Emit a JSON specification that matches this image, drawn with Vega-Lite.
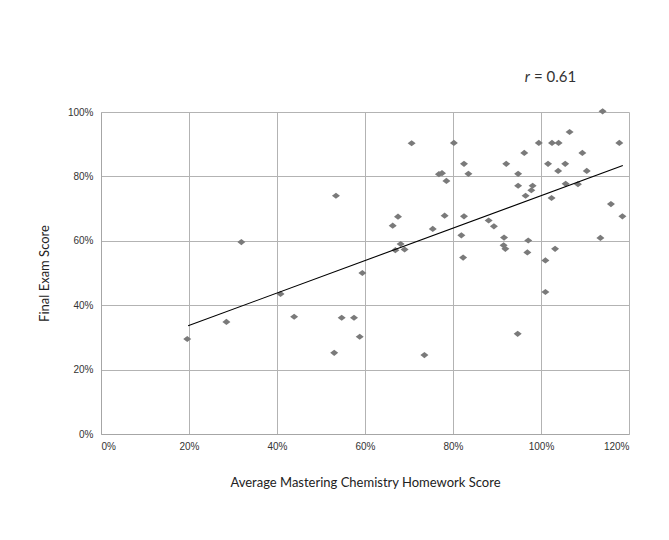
{
  "$schema": "https://vega.github.io/schema/vega-lite/v6.json",
  "autosize": "none",
  "width": 528,
  "height": 322,
  "padding": {"left": 101, "top": 112, "right": 40, "bottom": 106},
  "background": "white",
  "datasets": {
    "scores": [
      {"hw": 0.196, "exam": 0.295}, {"hw": 0.285, "exam": 0.348}, {"hw": 0.319, "exam": 0.596},
      {"hw": 0.408, "exam": 0.435}, {"hw": 0.439, "exam": 0.364}, {"hw": 0.530, "exam": 0.252},
      {"hw": 0.534, "exam": 0.740}, {"hw": 0.547, "exam": 0.361}, {"hw": 0.575, "exam": 0.361},
      {"hw": 0.588, "exam": 0.302}, {"hw": 0.594, "exam": 0.500}, {"hw": 0.663, "exam": 0.647},
      {"hw": 0.669, "exam": 0.571}, {"hw": 0.675, "exam": 0.675}, {"hw": 0.681, "exam": 0.590},
      {"hw": 0.690, "exam": 0.573}, {"hw": 0.706, "exam": 0.903}, {"hw": 0.735, "exam": 0.245},
      {"hw": 0.754, "exam": 0.637}, {"hw": 0.768, "exam": 0.807}, {"hw": 0.775, "exam": 0.810},
      {"hw": 0.781, "exam": 0.678}, {"hw": 0.785, "exam": 0.786}, {"hw": 0.802, "exam": 0.904},
      {"hw": 0.819, "exam": 0.617}, {"hw": 0.823, "exam": 0.548}, {"hw": 0.825, "exam": 0.676},
      {"hw": 0.825, "exam": 0.839}, {"hw": 0.835, "exam": 0.808}, {"hw": 0.881, "exam": 0.663},
      {"hw": 0.893, "exam": 0.645}, {"hw": 0.916, "exam": 0.610}, {"hw": 0.915, "exam": 0.586},
      {"hw": 0.919, "exam": 0.575}, {"hw": 0.921, "exam": 0.839}, {"hw": 0.947, "exam": 0.311},
      {"hw": 0.948, "exam": 0.808}, {"hw": 0.948, "exam": 0.771}, {"hw": 0.962, "exam": 0.873},
      {"hw": 0.965, "exam": 0.740}, {"hw": 0.969, "exam": 0.564}, {"hw": 0.971, "exam": 0.601},
      {"hw": 0.978, "exam": 0.757}, {"hw": 0.981, "exam": 0.771}, {"hw": 0.995, "exam": 0.904},
      {"hw": 1.010, "exam": 0.539}, {"hw": 1.010, "exam": 0.441}, {"hw": 1.016, "exam": 0.839},
      {"hw": 1.024, "exam": 0.733}, {"hw": 1.025, "exam": 0.904}, {"hw": 1.032, "exam": 0.575},
      {"hw": 1.039, "exam": 0.817}, {"hw": 1.040, "exam": 0.904}, {"hw": 1.055, "exam": 0.839},
      {"hw": 1.056, "exam": 0.777}, {"hw": 1.065, "exam": 0.938}, {"hw": 1.084, "exam": 0.776},
      {"hw": 1.094, "exam": 0.873}, {"hw": 1.104, "exam": 0.817}, {"hw": 1.135, "exam": 0.609},
      {"hw": 1.140, "exam": 1.002}, {"hw": 1.159, "exam": 0.714}, {"hw": 1.178, "exam": 0.904},
      {"hw": 1.185, "exam": 0.676}
    ],
    "trend": [
      {"hw": 0.198, "exam": 0.336},
      {"hw": 1.186, "exam": 0.834}
    ]
  },
  "config": {
    "view": {"stroke": null},
    "axis": {
      "labelFont": "Liberation Sans",
      "labelFontSize": 10,
      "labelColor": "#333333",
      "titleFont": "Lato",
      "titleFontSize": 13,
      "titleFontWeight": "normal",
      "titleColor": "#222222",
      "gridColor": "#b3b3b3",
      "gridWidth": 1,
      "gridOpacity": 1,
      "domainColor": "#a6a6a6",
      "domainWidth": 1,
      "ticks": false
    }
  },
  "layer": [
    {
      "data": {"name": "scores"},
      "mark": {"type": "point", "shape": "M-1.3,0L0,-1L1.3,0L0,1Z", "filled": true, "size": 38, "color": "#7a7a7a", "opacity": 1},
      "encoding": {
        "x": {
          "field": "hw", "type": "quantitative",
          "scale": {"domain": [0, 1.2], "nice": false, "zero": true},
          "axis": {"format": ".0%", "values": [0, 0.2, 0.4, 0.6, 0.8, 1.0, 1.2], "title": "Average Mastering Chemistry Homework Score", "labelPadding": 7, "titlePadding": 25}
        },
        "y": {
          "field": "exam", "type": "quantitative",
          "scale": {"domain": [0, 1.0], "nice": false},
          "axis": {"format": ".0%", "values": [0, 0.2, 0.4, 0.6, 0.8, 1.0], "title": "Final Exam Score", "labelPadding": 8, "titlePadding": 16}
        }
      }
    },
    {
      "data": {"name": "trend"},
      "mark": {"type": "line", "color": "#000000", "strokeWidth": 1.1},
      "encoding": {
        "x": {"field": "hw", "type": "quantitative"},
        "y": {"field": "exam", "type": "quantitative"}
      }
    },
    {
      "data": {"values": [{}]},
      "mark": {"type": "text", "text": "r", "font": "Lato", "fontStyle": "italic", "fontSize": 15, "color": "#333333", "align": "right", "baseline": "middle", "clip": false},
      "encoding": {
        "x": {"datum": 0.975, "type": "quantitative"},
        "y": {"datum": 1.11, "type": "quantitative"}
      }
    },
    {
      "data": {"values": [{}]},
      "mark": {"type": "text", "text": "= 0.61", "font": "Lato", "fontSize": 15, "color": "#333333", "align": "left", "baseline": "middle", "dx": 4, "clip": false},
      "encoding": {
        "x": {"datum": 0.975, "type": "quantitative"},
        "y": {"datum": 1.11, "type": "quantitative"}
      }
    }
  ]
}
